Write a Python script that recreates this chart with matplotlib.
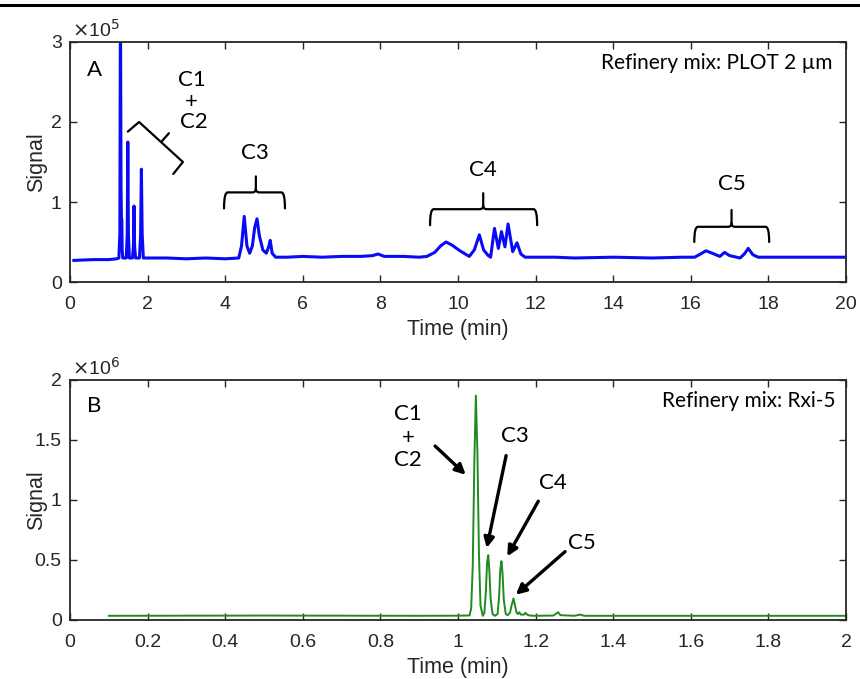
import matplotlib
matplotlib.use("Agg")
import matplotlib.pyplot as plt
from matplotlib.lines import Line2D
from matplotlib.path import Path
from matplotlib.patches import PathPatch

# ---------------- data ----------------
# Panel A: PLOT 2 um column (time in min, signal in units of 1e5)
time_A = [0.10, 0.60, 1.00, 1.20, 1.26, 1.285, 1.30, 1.315, 1.325, 1.335, 1.345, 1.36,
          1.45, 1.475, 1.49, 1.505, 1.53, 1.61, 1.635, 1.65, 1.665, 1.69,
          1.79, 1.82, 1.84, 1.86, 1.89, 2.50, 3.00, 3.50, 4.00, 4.35, 4.42, 4.49,
          4.56, 4.63, 4.70, 4.76, 4.82, 4.88, 4.97, 5.06, 5.12, 5.16, 5.21,
          5.30, 5.60, 6.00, 6.50, 7.00, 7.50, 7.80, 7.94, 8.10, 8.60, 9.00,
          9.20, 9.40, 9.55, 9.69, 9.85, 10.05, 10.29, 10.42, 10.55, 10.66,
          10.78, 10.84, 10.94, 11.04, 11.12, 11.21, 11.29, 11.41, 11.52,
          11.62, 11.73, 12.50, 13.00, 14.00, 15.00, 15.80, 16.10, 16.25,
          16.39, 16.55, 16.75, 16.87, 17.00, 17.27, 17.38, 17.48, 17.60,
          17.74, 18.50, 19.00, 19.50, 20.00]
signal_A = [0.27, 0.28, 0.28, 0.29, 0.30, 0.60, 3.60, 1.20, 0.80, 0.78, 0.40, 0.30,
            0.30, 0.60, 1.75, 0.60, 0.30, 0.30, 0.45, 0.95, 0.45, 0.30,
            0.30, 0.60, 1.41, 0.60, 0.30, 0.30, 0.29, 0.30, 0.29, 0.30, 0.45, 0.82,
            0.45, 0.36, 0.45, 0.68, 0.79, 0.58, 0.40, 0.36, 0.44, 0.52, 0.36,
            0.31, 0.31, 0.32, 0.31, 0.32, 0.32, 0.33, 0.35, 0.32, 0.32, 0.31,
            0.32, 0.37, 0.45, 0.50, 0.46, 0.39, 0.32, 0.40, 0.59, 0.40,
            0.33, 0.31, 0.67, 0.42, 0.63, 0.44, 0.725, 0.38, 0.49,
            0.35, 0.31, 0.31, 0.30, 0.31, 0.30, 0.31, 0.31, 0.35,
            0.39, 0.36, 0.32, 0.37, 0.33, 0.30, 0.35, 0.42, 0.34,
            0.31, 0.31, 0.31, 0.31, 0.31]

# Panel B: Rxi-5 column (time in min, signal in units of 1e6)
time_B = [0.10, 0.50, 0.90, 1.000, 1.030, 1.034, 1.038, 1.042, 1.046, 1.050, 1.054,
          1.058, 1.064, 1.068, 1.072, 1.075, 1.078, 1.081, 1.084, 1.089, 1.095,
          1.102, 1.106, 1.109, 1.112, 1.115, 1.118, 1.123, 1.128, 1.134,
          1.138, 1.143, 1.147, 1.151, 1.155, 1.158, 1.162, 1.170, 1.174, 1.178,
          1.185, 1.20, 1.245, 1.252, 1.258, 1.264, 1.30, 1.315, 1.325, 1.40,
          1.60, 1.80, 2.00]
signal_B = [0.035, 0.037, 0.035, 0.036, 0.038, 0.10, 0.45, 1.30, 1.87, 1.40, 0.55,
            0.12, 0.035, 0.06, 0.25, 0.48, 0.54, 0.40, 0.18, 0.05, 0.035,
            0.05, 0.20, 0.42, 0.49, 0.38, 0.17, 0.05, 0.04, 0.06,
            0.12, 0.18, 0.12, 0.06, 0.05, 0.065, 0.045, 0.045, 0.06, 0.045,
            0.037, 0.035, 0.037, 0.05, 0.065, 0.04, 0.035, 0.045, 0.035, 0.035,
            0.035, 0.035, 0.035]

xticks_A = [0, 2, 4, 6, 8, 10, 12, 14, 16, 18, 20]
yticks_A = [0, 1, 2, 3]
yticklabels_A = ["0", "1", "2", "3"]
xticks_B = [0, 0.2, 0.4, 0.6, 0.8, 1.0, 1.2, 1.4, 1.6, 1.8, 2.0]
xticklabels_B = ["0", "0.2", "0.4", "0.6", "0.8", "1", "1.2", "1.4", "1.6", "1.8", "2"]
yticks_B = [0, 0.5, 1, 1.5, 2]
yticklabels_B = ["0", "0.5", "1", "1.5", "2"]

# ---------------- style ----------------
AX_COL = "#262626"
TICK_FONT = "Liberation Sans"
ANN_FONT = "Lato"
BLUE = "#0a0af5"
GREEN = "#1f8a1f"

fig = plt.figure(figsize=(8.6, 6.79), dpi=100)

# top rule across the page
fig.add_artist(Line2D([0, 1], [1 - 5 / 679, 1 - 5 / 679], transform=fig.transFigure,
                      color="black", lw=2.2))

axA = fig.add_axes([70 / 860, 1 - 282 / 679, 776 / 860, 240 / 679])
axB = fig.add_axes([70 / 860, 1 - 620 / 679, 776 / 860, 240 / 679])


def style_axes(ax):
    for s in ax.spines.values():
        s.set_color(AX_COL)
        s.set_linewidth(1.3)
    ax.tick_params(direction="in", length=5, width=1.0, color=AX_COL,
                   top=True, right=True, labelsize=14, labelcolor=AX_COL)
    ax.tick_params(axis="x", pad=10)
    ax.tick_params(axis="y", pad=6)
    for lab in ax.get_xticklabels() + ax.get_yticklabels():
        lab.set_fontfamily(TICK_FONT)


axA.plot(time_A, signal_A, color=BLUE, lw=2.2, solid_joinstyle="round")
axA.set_xlim(0, 20)
axA.set_ylim(0, 3)
axA.set_xticks(xticks_A)
axA.set_yticks(yticks_A)
axA.set_yticklabels(yticklabels_A)
style_axes(axA)

axB.plot(time_B, signal_B, color=GREEN, lw=1.4)
axB.set_xlim(0, 2)
axB.set_ylim(0, 2)
axB.set_xticks(xticks_B)
axB.set_xticklabels(xticklabels_B)
axB.set_yticks(yticks_B)
axB.set_yticklabels(yticklabels_B)
style_axes(axB)

for ax, exp in ((axA, "5"), (axB, "6")):
    ax.set_xlabel("Time (min)", fontsize=15.5, family=TICK_FONT, color=AX_COL)
    ax.set_ylabel("Signal", fontsize=15.5, family=TICK_FONT, color=AX_COL)
    ax.xaxis.set_label_coords(0.5, -0.155)
    ax.yaxis.set_label_coords(-0.030, 0.5)
    ax.text(0.003, 1.005, r"$\times$10$^{%s}$" % exp, transform=ax.transAxes,
            ha="left", va="bottom", fontsize=14, family=TICK_FONT, color=AX_COL,
            math_fontfamily="dejavusans")

ann = dict(family=ANN_FONT, fontsize=16, color="black", ha="center", va="center")

# ---- panel A annotations ----
axA.text(0.032, 0.883, "A", transform=axA.transAxes, **ann)
axA.text(0.983, 0.9125, "Refinery mix: PLOT 2 µm", transform=axA.transAxes,
         family=ANN_FONT, fontsize=15, ha="right", va="center")
axA.text(3.14, 2.52, "C1", **ann)
axA.text(3.12, 2.25, "+", **ann)
axA.text(3.20, 2.00, "C2", **ann)
axA.text(4.77, 1.61, "C3", **ann)
axA.text(10.65, 1.40, "C4", **ann)
axA.text(17.05, 1.22, "C5", **ann)

bk = dict(color="black", lw=1.6, solid_joinstyle="round", solid_capstyle="round")
# tilted brace for C1+C2
axA.plot([1.49, 1.78, 2.91, 2.66], [1.88, 2.00, 1.50, 1.35], **bk)
axA.plot([2.35, 2.55], [1.75, 1.86], **bk)


def hbrace(ax, x0, x1, xm, ybar, yend, ytip, rx, ry):
    verts = [(x0, yend), (x0, ybar), (x0 + rx, ybar),
             (xm - rx, ybar), (xm, ybar), (xm, ybar + ry),
             (xm, ytip)]
    codes = [Path.MOVETO, Path.CURVE3, Path.CURVE3,
             Path.LINETO, Path.CURVE3, Path.CURVE3, Path.LINETO]
    ax.add_patch(PathPatch(Path(verts, codes), fill=False, ec="black", lw=1.6,
                           capstyle="round", joinstyle="round"))
    verts = [(xm, ybar + ry), (xm, ybar), (xm + rx, ybar),
             (x1 - rx, ybar), (x1, ybar), (x1, yend)]
    codes = [Path.MOVETO, Path.CURVE3, Path.CURVE3,
             Path.LINETO, Path.CURVE3, Path.CURVE3]
    ax.add_patch(PathPatch(Path(verts, codes), fill=False, ec="black", lw=1.6,
                           capstyle="round", joinstyle="round"))


hbrace(axA, 3.97, 5.54, 4.79, 1.12, 0.92, 1.32, 0.09, 0.05)
hbrace(axA, 9.28, 12.04, 10.65, 0.91, 0.71, 1.11, 0.09, 0.05)
hbrace(axA, 16.09, 18.02, 17.05, 0.69, 0.50, 0.90, 0.09, 0.05)

# ---- panel B annotations ----
axB.text(0.031, 0.892, "B", transform=axB.transAxes, **ann)
axB.text(0.987, 0.9125, "Refinery mix: Rxi-5", transform=axB.transAxes,
         family=ANN_FONT, fontsize=15, ha="right", va="center")
axB.text(0.871, 1.72, "C1", **ann)
axB.text(0.871, 1.52, "+", **ann)
axB.text(0.871, 1.33, "C2", **ann)
axB.text(1.147, 1.53, "C3", **ann)
axB.text(1.244, 1.14, "C4", **ann)
axB.text(1.319, 0.64, "C5", **ann)

arr = dict(arrowstyle="-|>,head_length=0.6,head_width=0.3", color="black", lw=2.4,
           shrinkA=0, shrinkB=0)
axB.annotate("", xy=(1.020, 1.21), xytext=(0.941, 1.45), arrowprops=arr)
axB.annotate("", xy=(1.074, 0.60), xytext=(1.124, 1.37), arrowprops=arr)
axB.annotate("", xy=(1.127, 0.53), xytext=(1.207, 0.99), arrowprops=arr)
axB.annotate("", xy=(1.149, 0.21), xytext=(1.276, 0.57), arrowprops=arr)

fig.savefig("out.png", dpi=100)
